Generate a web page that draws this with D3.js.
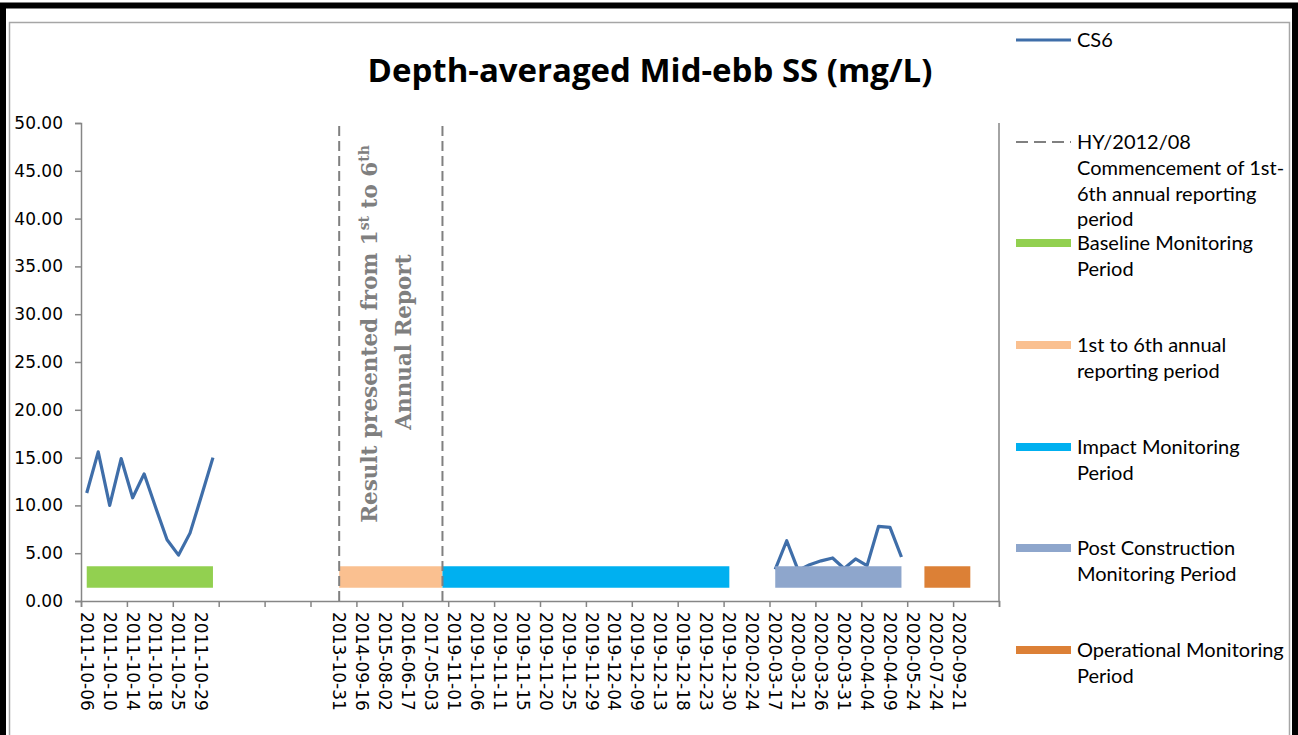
<!DOCTYPE html>
<html>
<head>
<meta charset="utf-8">
<script src="https://cdn.jsdelivr.net/npm/d3@7"></script>
<style>
  html, body { margin: 0; padding: 0; background: #fff; }
  svg { display: block; }
</style>
</head>
<body>
<svg id="chart" width="1298" height="735"></svg>
<script>
// ---------- DATA ----------
const chartTitle = "Depth-averaged Mid-ebb SS (mg/L)";
// Labels shown on the category axis (every second category is labelled)
const xLabels = [
  "2011-10-06","2011-10-10","2011-10-14","2011-10-18","2011-10-25","2011-10-29",
  "","","","","",
  "2013-10-31","2014-09-16","2015-08-02","2016-06-17","2017-05-03",
  "2019-11-01","2019-11-06","2019-11-11","2019-11-15","2019-11-20","2019-11-25",
  "2019-11-29","2019-12-04","2019-12-09","2019-12-13","2019-12-18","2019-12-23",
  "2019-12-30","2020-02-24","2020-03-17","2020-03-21","2020-03-26","2020-03-31",
  "2020-04-04","2020-04-09","2020-05-24","2020-07-24","2020-09-21",""
];
// CS6 depth-averaged mid-ebb SS, one value per category (null = no data)
const cs6 = [
  11.3,15.6,10.0,14.9,10.8,13.3,9.8,6.4,4.8,7.1,11.0,15.0,
  null,null,null,null,null,null,null,null,null,null,
  null,null,null,null,null,null,null,null,null,null,
  null,null,null,null,null,null,null,null,null,null,
  null,null,null,null,null,null,null,null,null,null,
  null,null,null,null,null,null,null,null,
  3.3,6.3,3.2,3.8,4.2,4.5,3.4,4.4,3.7,7.8,7.7,4.6,
  null,null,null,null,null,null,null,null
];
// Period bars: category range and level
const periodNames  = ["Baseline Monitoring Period","1st to 6th annual reporting period","Impact Monitoring Period","Post Construction Monitoring Period","Operational Monitoring Period"];
const periodStart  = [0, 22, 31, 60, 73];
const periodEnd    = [11, 31, 56, 71, 77];
const periodLevel  = [2.5, 2.5, 2.5, 2.5, 2.5];
const periodColors = ["#92d050","#fac090","#00b0f0","#8ea6cc","#dc8036"];
// HY/2012/08 vertical markers (category index), spanning 0..50
const markerCats = [22, 31];
const markerRange = [0, 50];
const yTicks = [0,5,10,15,20,25,30,35,40,45,50];

// ---------- LAYOUT ----------
const svg = d3.select("#chart");
const nCats = xLabels.length * 2;
const plot = {left: 81, right: 999, top: 123, bottom: 601};

const x = d3.scaleLinear().domain([0, nCats]).range([plot.left, plot.right]);
const xc = i => x(i + 0.5);
const y = d3.scaleLinear().domain([0, 50]).range([plot.bottom, plot.top]);

// outer frames
svg.append("rect").attr("x", 3).attr("y", 5.5).attr("width", 1292).attr("height", 760)
  .attr("fill", "none").attr("stroke", "#000").attr("stroke-width", 6);
svg.append("rect").attr("x", 9.5).attr("y", 22.5).attr("width", 1280).attr("height", 740)
  .attr("fill", "none").attr("stroke", "#a6a6a6").attr("stroke-width", 1.5);

// title
const title = svg.append("text").attr("x", 650).attr("y", 82)
  .attr("text-anchor", "middle").attr("font-family", "'Open Sans', sans-serif")
  .attr("font-weight", "bold").attr("font-size", 30).attr("fill", "#000").text(chartTitle);
{
  const w = title.node().getComputedTextLength();
  title.attr("font-size", 30 * 565 / w);
}

// y axis
const yAxis = d3.axisLeft(y).tickValues(yTicks).tickSize(6).tickPadding(12)
  .tickFormat(d3.format(".2f"));
const gy = svg.append("g").attr("transform", `translate(${plot.left},0)`).call(yAxis);
gy.select(".domain").attr("stroke", "#868686").attr("stroke-width", 1.5);
gy.selectAll(".tick line").attr("stroke", "#868686").attr("stroke-width", 1.5);
gy.selectAll(".tick text").attr("font-family", "'DejaVu Sans', sans-serif")
  .attr("font-size", 17).attr("fill", "#000");

// right border (secondary axis line)
svg.append("line").attr("x1", plot.right).attr("x2", plot.right)
  .attr("y1", plot.top).attr("y2", plot.bottom)
  .attr("stroke", "#868686").attr("stroke-width", 1.5);

// x axis
const tickBounds = d3.range(0, nCats + 1, 4);
const xAxis = d3.axisBottom(x).tickValues(tickBounds).tickSize(6).tickFormat("");
const gx = svg.append("g").attr("transform", `translate(0,${plot.bottom})`).call(xAxis);
gx.select(".domain").attr("stroke", "#868686").attr("stroke-width", 1.5);
gx.selectAll(".tick line").attr("stroke", "#868686").attr("stroke-width", 1.5);

svg.append("g").selectAll("text").data(xLabels).join("text")
  .attr("transform", (d, i) => `translate(${xc(i * 2)},612) rotate(90)`)
  .attr("dy", "0.36em")
  .attr("font-family", "'DejaVu Sans', sans-serif").attr("font-size", 17)
  .attr("fill", "#000").text(d => d);

// CS6 line
const line = d3.line().defined(d => d != null).x((d, i) => xc(i)).y(d => y(d));
svg.append("path").datum(cs6).attr("d", line)
  .attr("fill", "none").attr("stroke", "#3f6ea9").attr("stroke-width", 3.2)
  .attr("stroke-linejoin", "round");

// period bars
svg.append("g").selectAll("line").data(periodNames).join("line")
  .attr("x1", (d, i) => xc(periodStart[i])).attr("x2", (d, i) => xc(periodEnd[i]))
  .attr("y1", (d, i) => y(periodLevel[i])).attr("y2", (d, i) => y(periodLevel[i]))
  .attr("stroke", (d, i) => periodColors[i]).attr("stroke-width", 21.5);

// dashed markers
svg.append("g").selectAll("line").data(markerCats).join("line")
  .attr("x1", d => xc(d)).attr("x2", d => xc(d))
  .attr("y1", y(markerRange[0])).attr("y2", y(markerRange[1]))
  .attr("stroke", "#808080").attr("stroke-width", 2).attr("stroke-dasharray", "10,5");

// rotated annotation
const annSize = 21;
const ann = svg.append("g").attr("font-family", "'DejaVu Serif', serif")
  .attr("font-weight", "bold").attr("font-size", annSize).attr("fill", "#7f7f7f")
  .attr("text-anchor", "middle");
const t1 = ann.append("text").attr("transform", "translate(377,334) rotate(-90)");
t1.append("tspan").text("Result presented from 1");
t1.append("tspan").attr("baseline-shift", "super").attr("font-size", annSize * 0.65).text("st");
t1.append("tspan").text(" to 6");
t1.append("tspan").attr("baseline-shift", "super").attr("font-size", annSize * 0.65).text("th");
const t2 = ann.append("text").attr("transform", "translate(411,342) rotate(-90)").text("Annual Report");
{
  const w = t1.node().getComputedTextLength();
  const s = annSize * 378 / w;
  ann.attr("font-size", s);
  t1.selectAll("tspan[baseline-shift]").attr("font-size", s * 0.65);
}

// legend
const lg = svg.append("g").attr("font-family", "Lato, 'Open Sans', sans-serif")
  .attr("font-size", 20).attr("fill", "#000");
const legendItems = [
  {lines: ["CS6"], y: 40, type: "line", color: "#3f6ea9"},
  {lines: ["HY/2012/08", "Commencement of 1st-", "6th annual reporting", "period"], y: 142, type: "dash", color: "#808080"},
  {lines: ["Baseline Monitoring", "Period"], y: 243, type: "bar", color: periodColors[0]},
  {lines: ["1st to 6th annual", "reporting period"], y: 345, type: "bar", color: periodColors[1]},
  {lines: ["Impact Monitoring", "Period"], y: 447, type: "bar", color: periodColors[2]},
  {lines: ["Post Construction", "Monitoring Period"], y: 548, type: "bar", color: periodColors[3]},
  {lines: ["Operational Monitoring", "Period"], y: 650, type: "bar", color: periodColors[4]}
];
legendItems.forEach(it => {
  const l = lg.append("line").attr("x1", 1016).attr("x2", 1071).attr("y1", it.y).attr("y2", it.y)
    .attr("stroke", it.color);
  if (it.type === "line") l.attr("stroke-width", 3);
  if (it.type === "dash") l.attr("stroke-width", 2).attr("stroke-dasharray", "12,6");
  if (it.type === "bar") l.attr("stroke-width", 8);
  it.lines.forEach((s, k) => {
    lg.append("text").attr("x", 1077).attr("y", it.y + k * 25.8).attr("dy", "0.35em").text(s);
  });
});
</script>
</body>
</html>
